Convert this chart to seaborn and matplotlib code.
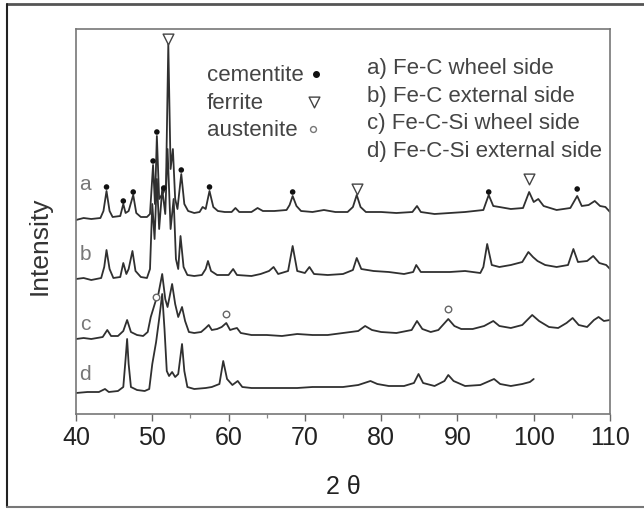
import matplotlib
matplotlib.use("Agg")
import matplotlib.pyplot as plt
from matplotlib.lines import Line2D
import seaborn as sns
import pandas as pd

# ---- data (2-theta in degrees, intensity in arbitrary units) ----
a_x = [40.0, 41.0, 42.0, 43.2, 43.6, 44.0, 44.4, 44.8, 45.8, 46.2, 46.5, 46.9, 47.5, 47.9, 48.5, 49.3,
       49.7, 50.1, 50.35, 50.6, 50.9, 51.5, 51.8, 52.1, 52.4, 52.7, 53.0, 53.3, 53.8, 54.2, 54.7, 55.5,
       56.2, 56.6, 57.0, 57.5, 58.0, 58.6, 59.5, 60.4, 60.9, 61.4, 63.0, 63.8, 64.5, 66.0, 67.6, 68.0,
       68.4, 68.9, 69.5, 71.0, 72.5, 74.0, 75.6, 76.3, 76.8, 77.3, 78.0, 80.0, 82.0, 84.1, 84.7, 85.2,
       87.0, 89.0, 91.0, 93.4, 94.1, 94.7, 95.5, 97.0, 98.6, 99.4, 100.0, 100.6, 101.3, 103.0, 104.8,
       105.7, 106.3, 107.2, 108.0, 108.7, 109.4, 110.0]
a_y = [194, 196, 195, 196, 203, 223, 203, 197, 198, 210, 201, 203, 219, 201, 197, 197,
       200, 249, 210, 278, 215, 222, 230, 370, 245, 265, 215, 205, 240, 210, 203, 201,
       202, 207, 205, 223, 207, 203, 202, 202, 206, 202, 202, 206, 203, 203, 204, 209,
       218, 208, 203, 202, 204, 202, 202, 207, 219, 207, 202, 202, 201, 202, 208, 202,
       200, 201, 202, 204, 219, 208, 207, 205, 206, 222, 212, 215, 208, 204, 206,
       218, 208, 209, 213, 208, 207, 202]

b_x = [40.0, 41.0, 42.0, 43.3, 43.7, 44.0, 44.4, 44.9, 45.8, 46.2, 46.6, 46.9, 47.4, 47.8, 48.5, 49.3,
       49.7, 50.0, 50.3, 50.6, 50.9, 51.3, 51.7, 52.0, 52.4, 52.8, 53.1, 53.4, 53.7, 54.1, 54.6, 55.5,
       56.5, 57.0, 57.3, 57.7, 58.5, 60.0, 60.6, 61.1, 63.0, 64.2, 65.3, 65.9, 66.5, 67.8, 68.4, 69.0,
       70.0, 70.6, 71.2, 73.0, 75.0, 76.3, 76.8, 77.4, 79.0, 81.0, 83.0, 84.2, 84.6, 85.2, 87.0, 89.0,
       91.0, 93.0, 93.4, 93.9, 94.5, 95.5, 97.0, 98.5, 99.3, 99.9, 100.5, 101.5, 103.0, 104.5, 105.2,
       105.8, 107.0, 107.8, 108.6, 109.5, 110.0]
b_y = [135, 136, 134, 136, 147, 164, 145, 136, 137, 151, 140, 145, 163, 143, 137, 136,
       145, 210, 175, 235, 185, 225, 200, 265, 185, 215, 155, 145, 178, 147, 139, 138,
       139, 145, 153, 143, 139, 139, 145, 139, 138, 140, 143, 147, 140, 143, 168, 143,
       141, 147, 140, 139, 140, 144, 156, 145, 143, 142, 140, 142, 149, 142, 142, 142,
       143, 141, 147, 170, 149, 147, 149, 152, 162, 157, 153, 149, 147, 149, 165,
       152, 153, 158, 151, 149, 145]

c_x = [40.0, 41.0, 42.0, 43.5, 44.1, 44.6, 45.5, 46.2, 46.7, 47.2, 48.0, 48.8, 49.4, 49.8, 50.4, 50.8,
       51.3, 51.7, 52.0, 52.6, 53.0, 53.4, 53.9, 54.3, 54.8, 55.5, 56.4, 57.0, 57.4, 57.8, 58.5, 59.1,
       59.7, 60.2, 60.6, 61.1, 61.6, 63.0, 65.0, 67.0, 69.0, 71.0, 73.0, 75.0, 77.0, 77.9, 78.8, 80.0,
       82.0, 84.0, 84.7, 85.4, 86.5, 87.5, 88.8, 89.6, 90.5, 92.0, 93.5, 94.7, 95.5, 97.0, 98.5, 99.8,
       100.7, 102.0, 103.2, 104.3, 105.1, 105.9, 107.0, 107.9, 108.5, 109.2, 110.0]
c_y = [75, 76, 75, 77, 84, 78, 78, 83, 94, 82, 79, 78, 82, 97, 112, 120,
       140, 115, 107, 130, 110, 97, 107, 93, 82, 81, 82, 86, 89, 84, 85, 87,
       91, 84, 85, 86, 81, 79, 79, 78, 80, 79, 79, 81, 83, 88, 84, 82,
       81, 84, 93, 85, 82, 84, 95, 88, 85, 85, 88, 93, 88, 86, 89, 99,
       93, 87, 86, 91, 96, 89, 87, 94, 97, 93, 94]

d_x = [40.0, 41.5, 43.0, 43.8, 44.3, 45.5, 46.2, 46.5, 46.7, 46.9, 47.2, 48.0, 49.0, 49.6, 50.0, 50.5,
       50.9, 51.3, 51.6, 51.9, 52.2, 52.6, 53.0, 53.4, 53.9, 54.2, 54.6, 55.5, 57.0, 57.8, 58.8, 59.3,
       59.8, 60.5, 61.2, 61.8, 63.0, 65.0, 67.0, 69.0, 71.0, 73.0, 75.0, 77.0, 78.6, 79.5, 81.0, 83.0,
       84.3, 84.9, 85.5, 87.0, 88.3, 88.8, 89.5, 91.0, 93.0, 94.8, 95.6, 97.0, 98.5, 99.5, 100.0]
d_y = [21, 22, 22, 25, 22, 23, 27, 55, 75, 50, 27, 24, 23, 25, 50, 72,
       95, 120, 85, 43, 38, 42, 37, 40, 70, 43, 27, 25, 26, 27, 30, 53,
       35, 29, 33, 27, 26, 26, 26, 26, 27, 27, 27, 29, 33, 30, 28, 28,
       31, 40, 31, 28, 33, 39, 33, 28, 29, 35, 30, 28, 30, 32, 35]

curve_names = ["a", "b", "c", "d"]
legend_lines = ["a) Fe-C wheel side", "b) Fe-C external side",
                "c) Fe-C-Si wheel side", "d) Fe-C-Si external side"]
phase_names = ["cementite", "ferrite", "austenite"]

cementite_x = [44.0, 46.2, 47.5, 50.1, 50.6, 51.5, 53.8, 57.5, 68.4, 94.1, 105.7]
cementite_y = [227, 213, 222, 253, 282, 226, 244, 227, 222, 222, 225]
ferrite_x = [52.1, 76.8, 99.4]
ferrite_y = [375, 225, 235]
austenite_x = [50.5, 59.7, 88.8]
austenite_y = [117, 100, 105]

x_ticks = [40, 50, 60, 70, 80, 90, 100, 110]

# ---- build tables ----
frames = []
for name, xs, ys in zip(curve_names, [a_x, b_x, c_x, d_x], [a_y, b_y, c_y, d_y]):
    frames.append(pd.DataFrame({"two_theta": xs, "intensity": ys, "sample": name}))
df = pd.concat(frames, ignore_index=True)

sns.set_theme(style="white")
plt.rcParams["font.family"] = ["Liberation Sans", "DejaVu Sans"]

fig = plt.figure(figsize=(6.44, 5.10), dpi=100)
ax = fig.add_axes([76 / 644, 95 / 510, 534 / 644, 385 / 510])

line_color = "#303030"
sns.lineplot(data=df, x="two_theta", y="intensity", units="sample", estimator=None,
             sort=False, color=line_color, linewidth=1.3, ax=ax, legend=False)

sns.scatterplot(x=cementite_x, y=cementite_y, color="#111111", s=16, marker="o",
                edgecolor="none", ax=ax, zorder=5)
sns.scatterplot(x=ferrite_x, y=ferrite_y, marker="v", s=60, facecolor="white",
                edgecolor="#444444", linewidth=1.0, ax=ax, zorder=5)
sns.scatterplot(x=austenite_x, y=austenite_y, marker="o", s=22, facecolor="white",
                edgecolor="#666666", linewidth=1.0, ax=ax, zorder=5)

ax.set_xlim(40, 110)
ax.set_ylim(0, 385)
ax.set_xticks(x_ticks)
ax.set_xticks(range(45, 110, 10), minor=True)
ax.set_yticks([])
ax.tick_params(axis="x", which="major", direction="out", length=5, width=1.0,
               color="#666666", labelsize=18, labelcolor="#222222", pad=3, bottom=True)
ax.tick_params(axis="x", which="minor", direction="out", length=3, width=0.9,
               color="#888888", bottom=True)
for sp in ax.spines.values():
    sp.set_color("#777777")
    sp.set_linewidth(1.2)

ax.set_xlabel("2 θ", fontsize=18, color="#222222", labelpad=18)
ax.set_ylabel("Intensity", fontsize=19, color="#333333")
ax.yaxis.set_label_coords(-0.045, 0.44)

# sample letters at the left of each curve
for name, ty in zip(curve_names, [230, 160, 90, 40]):
    ax.text(41.2, ty, name, fontsize=15, color="#777777", ha="center", va="center")

# phase key
key_y = [0.882, 0.810, 0.740]
for name, ky in zip(phase_names, key_y):
    ax.text(0.245, ky, name, transform=ax.transAxes, fontsize=16, color="#444444",
            ha="left", va="center")
ax.scatter([0.449], [key_y[0]], transform=ax.transAxes, s=16, color="#111111", zorder=6)
ax.scatter([0.445], [key_y[1]], transform=ax.transAxes, s=60, marker="v",
           facecolor="white", edgecolor="#444444", linewidth=1.0, zorder=6)
ax.scatter([0.443], [key_y[2]], transform=ax.transAxes, s=18, marker="o",
           facecolor="white", edgecolor="#777777", linewidth=1.0, zorder=6)

# sample key
for i, txt in enumerate(legend_lines):
    ax.text(0.545, 0.901 - i * 0.0725, txt, transform=ax.transAxes, fontsize=16,
            color="#444444", ha="left", va="center")

# outer frame of the figure (top, left, bottom)
fig.add_artist(Line2D([7 / 644, 1.0], [1 - 5 / 510, 1 - 5 / 510], transform=fig.transFigure,
                      color="#555555", linewidth=2.0))
fig.add_artist(Line2D([7 / 644, 7 / 644], [2 / 510, 1 - 5 / 510], transform=fig.transFigure,
                      color="#222222", linewidth=1.5))
fig.add_artist(Line2D([7 / 644, 1.0], [2 / 510, 2 / 510], transform=fig.transFigure,
                      color="#777777", linewidth=1.5))

fig.savefig("out.png", dpi=100, facecolor="white")
